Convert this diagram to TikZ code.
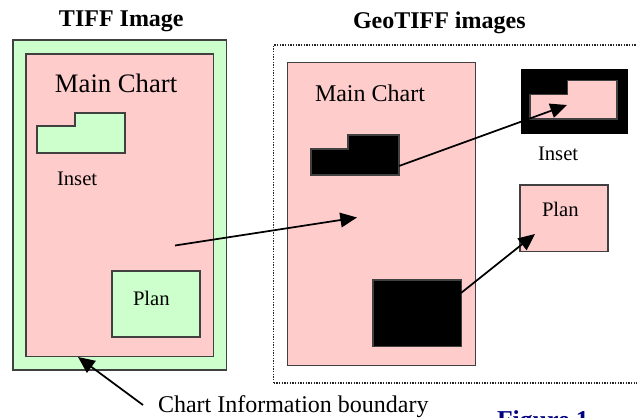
\documentclass[tikz,border=0pt]{standalone}
\usepackage{fontspec}
\setmainfont{Liberation Serif}
\usetikzlibrary{arrows.meta}
\definecolor{chartgreen}{HTML}{CCFFCC}
\definecolor{chartpink}{HTML}{FFCCCC}
\definecolor{edgegray}{HTML}{404040}
\tikzset{
  px/.style={x=0.75pt,y=-0.75pt},
  box/.style={draw=edgegray,line width=1.1pt,inner sep=0pt,outer sep=0pt},
  label/.style={anchor=base west,inner sep=0pt,outer sep=0pt,text=black},
  pointer/.style={draw=black,line width=1.3pt,-{Triangle[length=12.5pt,width=11pt]}},
  framebox/.style={draw=black!85,line width=1pt,dash pattern=on 1pt off 1pt}
}
\newcommand{\boxnode}[6]{% name, fill, x1, y1, x2, y2
  \path (#3,#4) coordinate (#1-a) (#5,#6) coordinate (#1-b);
  \draw[box,fill=#2] (#1-a) rectangle (#1-b);
}
\begin{document}
\begin{tikzpicture}[px]
\useasboundingbox (0,0) rectangle (637,418);
\clip (0,0) rectangle (637,418);
% left image
\boxnode{outer}{chartgreen}{13}{40}{226.5}{370}
\boxnode{inner}{chartpink}{26}{54}{213.5}{356.5}
\draw[box,fill=chartgreen] (37,126) -- (75,126) -- (75,113) -- (125,113) -- (125,153) -- (37,153) -- cycle;
\boxnode{planL}{chartgreen}{112}{271}{200}{337}
% right frame
\draw[framebox] (273.5,383) -- (273.5,45) -- (640,45);
\draw[framebox] (273.5,383) -- (640,383);
\boxnode{mainR}{chartpink}{287.5}{62.5}{475.5}{365.5}
\draw[box,fill=black] (311,149) -- (348,149) -- (348,135) -- (399,135) -- (399,175) -- (311,175) -- cycle;
\boxnode{planB}{black}{373}{280}{461.5}{346.5}
\fill[black] (520.5,68.5) rectangle (627.5,133.5);
\draw[box,fill=chartpink] (530,94.5) -- (567.5,94.5) -- (567.5,80.5) -- (617,80.5) -- (617,119) -- (530,119) -- cycle;
\boxnode{planR}{chartpink}{520}{185}{608}{251.5}
% labels
\node[label,font=\bfseries\fontsize{18pt}{20pt}\selectfont] (t1) at (59,26) {TIFF Image};
\node[label,font=\bfseries\fontsize{18pt}{20pt}\selectfont] (t2) at (353,28) {GeoTIFF images};
\node[label,font=\fontsize{20pt}{22pt}\selectfont] (m1) at (55,92.5) {Main Chart};
\node[label,font=\fontsize{18pt}{20pt}\selectfont] (m2) at (315,101.5) {Main Chart};
\node[label,font=\fontsize{15.5pt}{18pt}\selectfont] (i1) at (57,185) {Inset};
\node[label,font=\fontsize{15.5pt}{18pt}\selectfont] (i2) at (538,160) {Inset};
\node[label,font=\fontsize{15.5pt}{18pt}\selectfont] (p1) at (133,305) {Plan};
\node[label,font=\fontsize{15.5pt}{18pt}\selectfont] (p2) at (542,216.5) {Plan};
\node[label,font=\fontsize{18pt}{20pt}\selectfont] (cap) at (158,412.5) {Chart Information boundary};
\node[label,font=\bfseries\fontsize{19.3pt}{22pt}\selectfont,text={rgb,255:red,0;green,0;blue,128}] (fig) at (497,428.5) {Figure 1};
% arrows
\coordinate (a1s) at (175,245.5);
\coordinate (a1e) at (357,217.5);
\coordinate (a2s) at (399,166);
\coordinate (a2e) at (567,105);
\coordinate (a3s) at (461,293);
\coordinate (a3e) at (535,234);
\coordinate (a4s) at (143,405);
\coordinate (a4e) at (78,357);
\draw[pointer] (a1s) -- (a1e);
\draw[pointer] (a2s) -- (a2e);
\draw[pointer] (a3s) -- (a3e);
\draw[pointer] (a4s) -- (a4e);
\end{tikzpicture}
\end{document}
